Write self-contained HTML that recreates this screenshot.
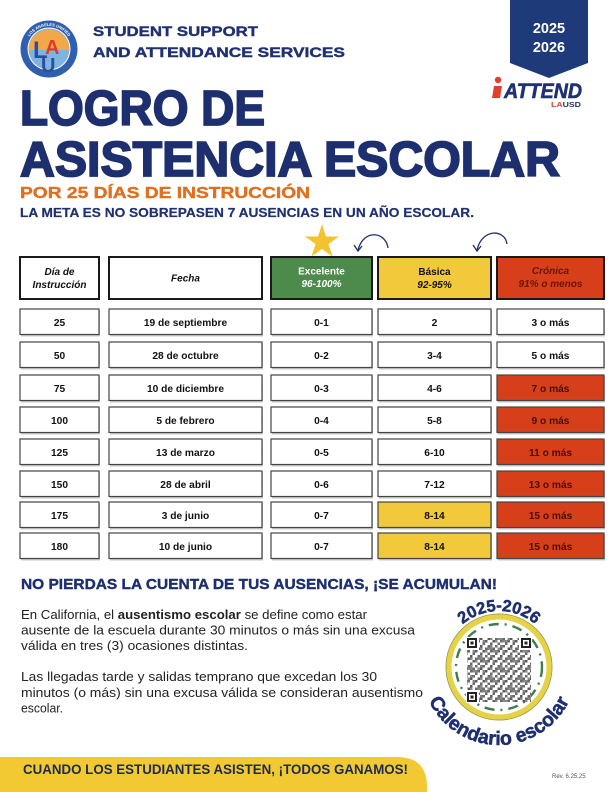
<!DOCTYPE html>
<html><head><meta charset="utf-8">
<style>html,body{margin:0;padding:0;background:#fff}svg{display:block}</style>
</head>
<body>
<svg width="612" height="792" viewBox="0 0 612 792" xmlns="http://www.w3.org/2000/svg" font-family="'Liberation Sans', sans-serif">
<defs>
<pattern id="qa" width="7.5" height="7.5" patternUnits="userSpaceOnUse"><rect x="0" y="0" width="2.5" height="2.5" fill="#444"/><rect x="5" y="2.5" width="2.5" height="2.5" fill="#444"/><rect x="2.5" y="5" width="2.5" height="2.5" fill="#444"/></pattern>
<pattern id="qb" width="10" height="10" patternUnits="userSpaceOnUse"><rect x="2.5" y="0" width="5" height="2.5" fill="#555"/><rect x="0" y="5" width="2.5" height="5" fill="#555"/><rect x="7.5" y="7.5" width="2.5" height="2.5" fill="#555"/></pattern>
<path id="topArc" d="M 443 667 A 56 56 0 0 1 555 667"/>
<path id="botArc" d="M 421 667 A 78 78 0 0 0 577 667"/>
<path id="logoArc" d="M 26 49 A 23 23 0 0 1 72 49"/>
</defs>

<!-- Logo -->
<circle cx="49" cy="49" r="28.5" fill="#2f5fae"/>
<circle cx="49" cy="49" r="21.5" fill="#fff"/>
<circle cx="49" cy="49" r="20.5" fill="#7fb3e0"/>
<path d="M28.5,50 A20.5,20.5 0 0 1 69.5,50 Z" fill="#f2a848"/>
<text font-size="4" font-weight="bold" fill="#fff"><textPath href="#logoArc" startOffset="50%" text-anchor="middle">LOS ANGELES UNIFIED</textPath></text>
<text x="33" y="58" font-size="24" font-weight="bold" fill="#2a4fa0">L</text>
<text x="45" y="54" font-size="20" font-weight="bold" fill="#e03a2a">A</text>
<text x="41" y="72" font-size="20" font-weight="bold" fill="#2a4fa0">U</text>

<!-- Header text -->
<text x="93" y="36" font-size="14" font-weight="bold" fill="#1f3170" stroke="#1f3170" stroke-width="0.4" textLength="165" lengthAdjust="spacingAndGlyphs">STUDENT SUPPORT</text>
<text x="93" y="57" font-size="14" font-weight="bold" fill="#1f3170" stroke="#1f3170" stroke-width="0.4" textLength="252" lengthAdjust="spacingAndGlyphs">AND ATTENDANCE SERVICES</text>

<!-- Badge -->
<polygon points="510,0 588,0 588,63 549,78 510,63" fill="#1f3a78"/>
<text x="549" y="33" font-size="14.5" font-weight="bold" fill="#fff" text-anchor="middle">2025</text>
<text x="549" y="52" font-size="14.5" font-weight="bold" fill="#fff" text-anchor="middle">2026</text>

<!-- iATTEND -->
<circle cx="498" cy="80" r="3.2" fill="#e2402a"/>
<polygon points="494,86 502,86 500,98 492,98" fill="#e2402a"/>
<text x="504" y="98" font-size="21" font-weight="bold" font-style="italic" fill="#1f3170" stroke="#1f3170" stroke-width="0.6" textLength="78" lengthAdjust="spacingAndGlyphs">ATTEND</text>
<text x="551" y="107" font-size="7.5" font-weight="bold" textLength="30" lengthAdjust="spacingAndGlyphs"><tspan fill="#e2402a">LA</tspan><tspan fill="#1f3170">USD</tspan></text>

<!-- Title -->
<text x="20" y="125" font-size="49" font-weight="bold" fill="#1d2f6f" stroke="#1d2f6f" stroke-width="1.8" textLength="245" lengthAdjust="spacingAndGlyphs">LOGRO DE</text>
<text x="20" y="176" font-size="49" font-weight="bold" fill="#1d2f6f" stroke="#1d2f6f" stroke-width="1.8" textLength="540" lengthAdjust="spacingAndGlyphs">ASISTENCIA ESCOLAR</text>
<text x="20" y="198" font-size="16" font-weight="bold" fill="#e0701f" stroke="#e0701f" stroke-width="0.4" textLength="290" lengthAdjust="spacingAndGlyphs">POR 25 DÍAS DE INSTRUCCIÓN</text>
<text x="20" y="217" font-size="13" font-weight="bold" fill="#1f3170" stroke="#1f3170" stroke-width="0.2" textLength="454" lengthAdjust="spacingAndGlyphs">LA META ES NO SOBREPASEN 7 AUSENCIAS EN UN AÑO ESCOLAR.</text>

<!-- Star -->
<polygon points="322,224 326,236.5 339,236.5 328.5,244 332.5,256.5 322,249 311.5,256.5 315.5,244 305,236.5 318,236.5" fill="#f2c230"/>

<!-- Arrows -->
<path d="M388,248 C386,232 364,228 358,250" fill="none" stroke="#1f3170" stroke-width="1.3"/>
<path d="M354,245 L358,251 L362,246" fill="none" stroke="#1f3170" stroke-width="1.3"/>
<path d="M507,244 C505,229 482,228 477,250" fill="none" stroke="#1f3170" stroke-width="1.3"/>
<path d="M473,245 L477,251 L481,246" fill="none" stroke="#1f3170" stroke-width="1.3"/>

<!-- Header boxes -->
<rect x="20" y="257" width="79" height="42" fill="#fff" stroke="#1a1a1a" stroke-width="2"/>
<rect x="109" y="257" width="153" height="42" fill="#fff" stroke="#1a1a1a" stroke-width="2"/>
<rect x="271" y="257" width="101" height="42" fill="#4d8b4c" stroke="#1a1a1a" stroke-width="2"/>
<rect x="378" y="257" width="113" height="42" fill="#f1c93a" stroke="#1a1a1a" stroke-width="2"/>
<rect x="497" y="257" width="107" height="42" fill="#d63f1a" stroke="#1a1a1a" stroke-width="2"/>

<g font-weight="bold" font-style="italic" text-anchor="middle" font-size="10">
<text x="59.5" y="275" fill="#111">Día de</text>
<text x="59.5" y="288" fill="#111">Instrucción</text>
<text x="185.5" y="281.5" fill="#111">Fecha</text>
<text x="321.5" y="274.5" fill="#fff" font-style="normal">Excelente</text>
<text x="321.5" y="287" fill="#fff">96-100%</text>
<text x="434.5" y="275" fill="#111" font-style="normal">Básica</text>
<text x="434.5" y="288" fill="#111">92-95%</text>
<text x="550.5" y="274" fill="#6e1206">Crónica</text>
<text x="550.5" y="287" fill="#6e1206">91% o menos</text>
</g>

<!-- Rows -->
<g stroke="#444" stroke-width="1.2">
<g fill="#c8c8c8" stroke="none">
<rect x="21" y="310.5" width="79" height="26"/><rect x="110" y="310.5" width="153" height="26"/><rect x="272" y="310.5" width="101" height="26"/><rect x="379" y="310.5" width="113" height="26"/><rect x="498" y="310.5" width="107" height="26"/>
<rect x="21" y="343.5" width="79" height="26"/><rect x="110" y="343.5" width="153" height="26"/><rect x="272" y="343.5" width="101" height="26"/><rect x="379" y="343.5" width="113" height="26"/><rect x="498" y="343.5" width="107" height="26"/>
<rect x="21" y="376.5" width="79" height="26"/><rect x="110" y="376.5" width="153" height="26"/><rect x="272" y="376.5" width="101" height="26"/><rect x="379" y="376.5" width="113" height="26"/><rect x="498" y="376.5" width="107" height="26"/>
<rect x="21" y="408.5" width="79" height="26"/><rect x="110" y="408.5" width="153" height="26"/><rect x="272" y="408.5" width="101" height="26"/><rect x="379" y="408.5" width="113" height="26"/><rect x="498" y="408.5" width="107" height="26"/>
<rect x="21" y="440.5" width="79" height="26"/><rect x="110" y="440.5" width="153" height="26"/><rect x="272" y="440.5" width="101" height="26"/><rect x="379" y="440.5" width="113" height="26"/><rect x="498" y="440.5" width="107" height="26"/>
<rect x="21" y="472.5" width="79" height="26"/><rect x="110" y="472.5" width="153" height="26"/><rect x="272" y="472.5" width="101" height="26"/><rect x="379" y="472.5" width="113" height="26"/><rect x="498" y="472.5" width="107" height="26"/>
<rect x="21" y="503.5" width="79" height="26"/><rect x="110" y="503.5" width="153" height="26"/><rect x="272" y="503.5" width="101" height="26"/><rect x="379" y="503.5" width="113" height="26"/><rect x="498" y="503.5" width="107" height="26"/>
<rect x="21" y="534.5" width="79" height="26"/><rect x="110" y="534.5" width="153" height="26"/><rect x="272" y="534.5" width="101" height="26"/><rect x="379" y="534.5" width="113" height="26"/><rect x="498" y="534.5" width="107" height="26"/>
</g>
<g fill="#fff">
<rect x="20" y="309" width="79" height="25.5"/><rect x="109" y="309" width="153" height="25.5"/><rect x="271" y="309" width="101" height="25.5"/><rect x="378" y="309" width="113" height="25.5"/><rect x="497" y="309" width="107" height="25.5"/>
<rect x="20" y="342" width="79" height="25.5"/><rect x="109" y="342" width="153" height="25.5"/><rect x="271" y="342" width="101" height="25.5"/><rect x="378" y="342" width="113" height="25.5"/><rect x="497" y="342" width="107" height="25.5"/>
<rect x="20" y="375" width="79" height="25.5"/><rect x="109" y="375" width="153" height="25.5"/><rect x="271" y="375" width="101" height="25.5"/><rect x="378" y="375" width="113" height="25.5"/><rect x="497" y="375" width="107" height="25.5" fill="#d63f1a"/>
<rect x="20" y="407" width="79" height="25.5"/><rect x="109" y="407" width="153" height="25.5"/><rect x="271" y="407" width="101" height="25.5"/><rect x="378" y="407" width="113" height="25.5"/><rect x="497" y="407" width="107" height="25.5" fill="#d63f1a"/>
<rect x="20" y="439" width="79" height="25.5"/><rect x="109" y="439" width="153" height="25.5"/><rect x="271" y="439" width="101" height="25.5"/><rect x="378" y="439" width="113" height="25.5"/><rect x="497" y="439" width="107" height="25.5" fill="#d63f1a"/>
<rect x="20" y="471" width="79" height="25.5"/><rect x="109" y="471" width="153" height="25.5"/><rect x="271" y="471" width="101" height="25.5"/><rect x="378" y="471" width="113" height="25.5"/><rect x="497" y="471" width="107" height="25.5" fill="#d63f1a"/>
<rect x="20" y="502" width="79" height="25.5"/><rect x="109" y="502" width="153" height="25.5"/><rect x="271" y="502" width="101" height="25.5"/><rect x="378" y="502" width="113" height="25.5" fill="#f1c93a"/><rect x="497" y="502" width="107" height="25.5" fill="#d63f1a"/>
<rect x="20" y="533" width="79" height="25.5"/><rect x="109" y="533" width="153" height="25.5"/><rect x="271" y="533" width="101" height="25.5"/><rect x="378" y="533" width="113" height="25.5" fill="#f1c93a"/><rect x="497" y="533" width="107" height="25.5" fill="#d63f1a"/>
</g>
</g>

<g font-weight="bold" text-anchor="middle" font-size="10.2" fill="#111">
<text x="59.5" y="326">25</text><text x="185.5" y="326">19 de septiembre</text><text x="321.5" y="326">0-1</text><text x="434.5" y="326">2</text><text x="550.5" y="326">3 o más</text>
<text x="59.5" y="359">50</text><text x="185.5" y="359">28 de octubre</text><text x="321.5" y="359">0-2</text><text x="434.5" y="359">3-4</text><text x="550.5" y="359">5 o más</text>
<text x="59.5" y="392">75</text><text x="185.5" y="392">10 de diciembre</text><text x="321.5" y="392">0-3</text><text x="434.5" y="392">4-6</text><text x="550.5" y="392" fill="#4a0d06">7 o más</text>
<text x="59.5" y="424">100</text><text x="185.5" y="424">5 de febrero</text><text x="321.5" y="424">0-4</text><text x="434.5" y="424">5-8</text><text x="550.5" y="424" fill="#4a0d06">9 o más</text>
<text x="59.5" y="456">125</text><text x="185.5" y="456">13 de marzo</text><text x="321.5" y="456">0-5</text><text x="434.5" y="456">6-10</text><text x="550.5" y="456" fill="#4a0d06">11 o más</text>
<text x="59.5" y="488">150</text><text x="185.5" y="488">28 de abril</text><text x="321.5" y="488">0-6</text><text x="434.5" y="488">7-12</text><text x="550.5" y="488" fill="#4a0d06">13 o más</text>
<text x="59.5" y="519">175</text><text x="185.5" y="519">3 de junio</text><text x="321.5" y="519">0-7</text><text x="434.5" y="519">8-14</text><text x="550.5" y="519" fill="#4a0d06">15 o más</text>
<text x="59.5" y="550">180</text><text x="185.5" y="550">10 de junio</text><text x="321.5" y="550">0-7</text><text x="434.5" y="550">8-14</text><text x="550.5" y="550" fill="#4a0d06">15 o más</text>
</g>

<!-- Bottom section -->
<text x="21" y="589" font-size="15" font-weight="bold" fill="#1d2f6f" stroke="#1d2f6f" stroke-width="0.4" textLength="476" lengthAdjust="spacingAndGlyphs">NO PIERDAS LA CUENTA DE TUS AUSENCIAS, ¡SE ACUMULAN!</text>

<g font-size="13" fill="#222">
<text x="21" y="619" textLength="346" lengthAdjust="spacingAndGlyphs">En California, el <tspan font-weight="bold">ausentismo escolar</tspan> se define como estar</text>
<text x="21" y="634.5" textLength="394" lengthAdjust="spacingAndGlyphs">ausente de la escuela durante 30 minutos o más sin una excusa</text>
<text x="21" y="650" textLength="227" lengthAdjust="spacingAndGlyphs">válida en tres (3) ocasiones distintas.</text>
<text x="21" y="681" textLength="356" lengthAdjust="spacingAndGlyphs">Las llegadas tarde y salidas temprano que excedan los 30</text>
<text x="21" y="697" textLength="402" lengthAdjust="spacingAndGlyphs">minutos (o más) sin una excusa válida se consideran ausentismo</text>
<text x="21" y="712.5" textLength="42" lengthAdjust="spacingAndGlyphs">escolar.</text>
</g>

<!-- QR circle -->
<circle cx="499" cy="667" r="53" fill="none" stroke="#9aa040" stroke-width="1"/>
<circle cx="499" cy="667" r="50" fill="#fff" stroke="#e6d245" stroke-width="5"/>
<circle cx="499" cy="667" r="43" fill="none" stroke="#3f7d4a" stroke-width="2.4" stroke-dasharray="10 6 2 6"/>
<rect x="467" y="638" width="64" height="64" fill="#fff"/>
<rect x="467" y="638" width="64" height="64" fill="url(#qa)" opacity="0.8"/>
<rect x="467" y="638" width="64" height="64" fill="url(#qb)" opacity="0.7"/>
<g>
<rect x="466" y="637" width="13" height="13" fill="#fff"/><rect x="467" y="638" width="10" height="10" fill="#222"/><rect x="469" y="640" width="6" height="6" fill="#fff"/><rect x="470.5" y="641.5" width="3" height="3" fill="#222"/>
<rect x="519" y="637" width="13" height="13" fill="#fff"/><rect x="521" y="638" width="10" height="10" fill="#222"/><rect x="523" y="640" width="6" height="6" fill="#fff"/><rect x="524.5" y="641.5" width="3" height="3" fill="#222"/>
<rect x="466" y="690" width="13" height="13" fill="#fff"/><rect x="467" y="692" width="10" height="10" fill="#222"/><rect x="469" y="694" width="6" height="6" fill="#fff"/><rect x="470.5" y="695.5" width="3" height="3" fill="#222"/>
</g>
<text font-size="16.5" font-weight="bold" fill="#1d2f6f" stroke="#1d2f6f" stroke-width="0.5"><textPath href="#topArc" startOffset="50%" text-anchor="middle">2025-2026</textPath></text>
<text font-size="19.5" font-weight="bold" fill="#1d2f6f" stroke="#1d2f6f" stroke-width="0.5"><textPath href="#botArc" startOffset="50%" text-anchor="middle">Calendario escolar</textPath></text>

<!-- Footer -->
<path d="M0,757 H397 Q427,757 427,787 V792 H0 Z" fill="#f2c933"/>
<text x="23" y="774" font-size="14" font-weight="bold" fill="#1c2a50" textLength="385" lengthAdjust="spacingAndGlyphs">CUANDO LOS ESTUDIANTES ASISTEN, ¡TODOS GANAMOS!</text>
<text x="552" y="778" font-size="6" fill="#555">Rev. 6.25.25</text>
</svg>
</body>
</html>
